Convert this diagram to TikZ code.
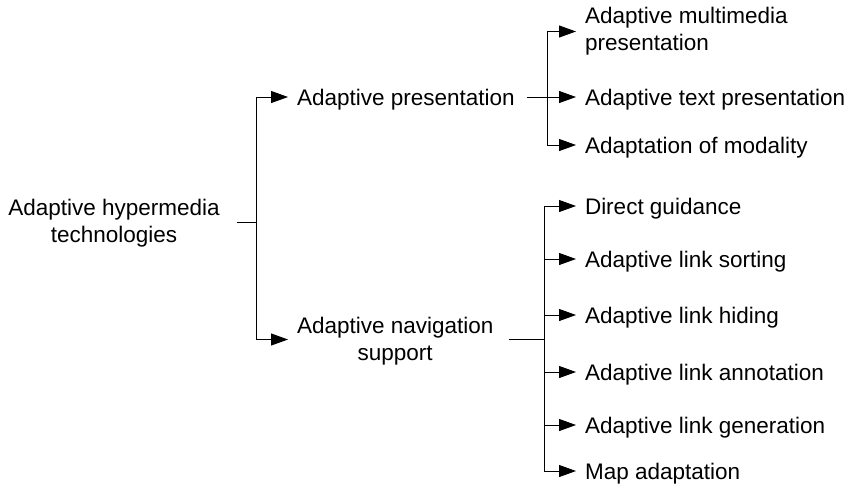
\documentclass[tikz,border=0pt]{standalone}
\usepackage{fontspec}
\setmainfont{Liberation Sans}
\usetikzlibrary{arrows.meta,calc}
\begin{document}
\begin{tikzpicture}[x=1pt,y=-1pt,
  every node/.style={inner sep=0pt, outer sep=0pt, font=\fontsize{22.5}{27}\selectfont},
  oneline/.style={anchor=west, text height=20.6pt, text depth=4.5pt},
  block/.style={align=center},
  twoline/.style={anchor=west, align=left},
  link/.style={line width=1pt},
  arr/.style={link, -{Triangle[length=17pt,width=12pt]}, shorten >=9pt}]
\useasboundingbox (0,0) rectangle (853,483);

% nodes
\node[block] (root) at (114,223.5) {Adaptive hypermedia\\technologies};
\node[oneline] (pres) at (297,97) {Adaptive presentation};
\node[block, anchor=west] (nav) at (297,341.5) {Adaptive navigation\\support};

\node[twoline] (mm) at (585,31.5) {Adaptive multimedia\\presentation};
\node[oneline] (txt) at (585,97) {Adaptive text presentation};
\node[oneline] (mod) at (585,145) {Adaptation of modality};

\node[oneline] (dg) at (585,206) {Direct guidance};
\node[oneline] (ls) at (585,259) {Adaptive link sorting};
\node[oneline] (lh) at (585,315) {Adaptive link hiding};
\node[oneline] (la) at (585,372) {Adaptive link annotation};
\node[oneline] (lg) at (585,425) {Adaptive link generation};
\node[oneline] (ma) at (585,471) {Map adaptation};

% branching points
\coordinate (j0) at (256,222);
\coordinate (j1) at (547,97);
\coordinate (j2) at (544,339);

% connectors
\draw[link] ($(j0 -| root.east)+(17,0)$) -- (j0);
\draw[arr] (j0) |- (pres.west);
\draw[arr] (j0) |- ($(nav.west)+(0,-2)$);

\draw[link] ([xshift=12pt]pres.east) -- (j1);
\draw[arr] (j1) |- (mm.west);
\draw[arr] (j1) |- (txt.west);
\draw[arr] (j1) |- (mod.west);

\draw[link] ($(j2 -| nav.east)+(16,0)$) -- (j2);
\foreach \n in {dg,ls,lh,la,lg,ma}
  \draw[arr] (j2) |- (\n.west);
\end{tikzpicture}
\end{document}
